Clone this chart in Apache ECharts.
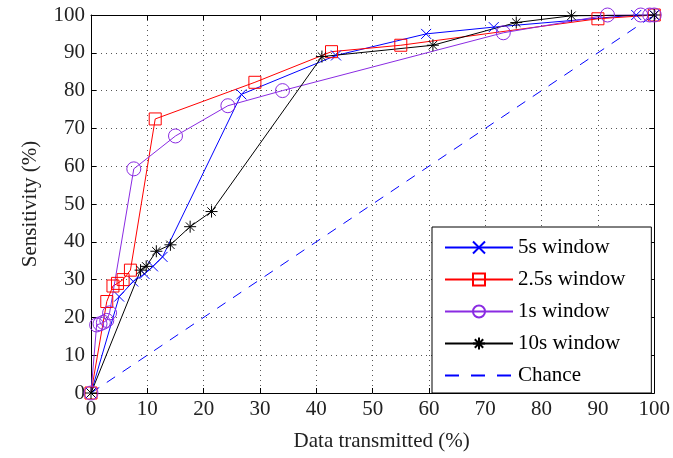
<!DOCTYPE html>
<html>
<head>
<meta charset="utf-8">
<script src="https://cdn.jsdelivr.net/npm/echarts@6/dist/echarts.min.js"></script>
<style>
  html, body { margin: 0; padding: 0; background: #fff; }
  #main { width: 673px; height: 458px; }
</style>
</head>
<body>
<div id="main"></div>
<script>
// ROC-like curves, values: [data transmitted %, sensitivity %]
const win5s = [[0, 0], [5, 25.5], [7.5, 29.5], [9.5, 31.5], [11, 33.5], [12.7, 36], [26.7, 79], [43.5, 89.3], [59.5, 95], [71.5, 96.8], [96.8, 100], [100, 100]];
const win2_5s = [[0, 0], [2.8, 24.2], [3.9, 28.3], [4.7, 29], [5.7, 30], [7, 32.5], [11.4, 72.5], [29.1, 82.2], [42.7, 90.3], [55, 92], [90, 99], [100, 100]];
const win1s = [[0, 0], [1, 18], [1.6, 18.3], [2.2, 18.7], [2.8, 19.2], [3.3, 21.2], [7.6, 59.3], [15, 68], [24.3, 76], [34, 80], [73.2, 95.3], [91.7, 100], [97.6, 100], [99.2, 100], [100, 100]];
const win10s = [[0, 0], [8.8, 32.5], [9.8, 33.5], [11.6, 37.5], [14.1, 39.2], [17.6, 44], [21.4, 48], [41, 89], [60.7, 92], [75.5, 98], [85.3, 99.8], [100, 100]];
const chance = [[0, 0], [100, 100]];

const seriesNames = ['5s window', '2.5s window', '1s window', '10s window', 'Chance'];

const FONT = '"Liberation Serif", "DejaVu Serif", serif';
const crossPath = 'path://M0 0L10 10M10 0L0 10';
const starPath = 'path://M5 0L5 10M0 5L10 5M1.5 1.5L8.5 8.5M8.5 1.5L1.5 8.5';

function valueAxis(pos, show) {
  return {
    type: 'value',
    position: pos,
    min: 0,
    max: 100,
    interval: 10,
    axisLine: { show: true, onZero: false, lineStyle: { color: '#000', width: 1 } },
    axisTick: { show: true, inside: true, length: 5, lineStyle: { color: '#000' } },
    axisLabel: {
      show: show,
      color: '#222',
      fontFamily: FONT,
      fontSize: 21,
      margin: 6
    },
    splitLine: {
      show: show,
      lineStyle: { color: '#555', type: [1, 4], width: 1 }
    }
  };
}

function lineSeries(name, data, color, symbol, size) {
  return {
    name: name,
    type: 'line',
    data: data,
    symbol: symbol,
    symbolSize: size,
    showAllSymbol: true,
    lineStyle: { color: color, width: 1 },
    itemStyle: { color: 'none', borderColor: color, borderWidth: 1 },
    emphasis: { disabled: true }
  };
}

const chart = echarts.init(document.getElementById('main'));

const xBottom = valueAxis('bottom', true);
xBottom.name = 'Data transmitted (%)';
xBottom.nameLocation = 'middle';
xBottom.nameGap = 38;
xBottom.nameTextStyle = { fontFamily: FONT, fontSize: 21, color: '#222', padding: [0, 0, 0, 18] };

const yLeft = valueAxis('left', true);
yLeft.name = 'Sensitivity (%)';
yLeft.nameLocation = 'middle';
yLeft.nameGap = 50;
yLeft.nameTextStyle = { fontFamily: FONT, fontSize: 21, color: '#222' };

const option = {
  animation: false,
  backgroundColor: '#fff',
  grid: { left: 91, right: 18, top: 15, bottom: 65, containLabel: false },
  xAxis: [xBottom, valueAxis('top', false)],
  yAxis: [yLeft, valueAxis('right', false)],
  legend: {
    orient: 'vertical',
    left: 432,
    top: 227,
    data: seriesNames.slice(0, 4).concat([{ name: 'Chance', lineStyle: { type: [14, 12] } }]),
    backgroundColor: '#fff',
    borderColor: '#000',
    borderWidth: 1,
    borderRadius: 0,
    padding: [10, 26, 7, 12],
    itemWidth: 68,
    itemHeight: 15,
    itemGap: 11,
    textStyle: { fontFamily: FONT, fontSize: 21, color: '#000' },
    selectedMode: false
  },
  series: [
    lineSeries(seriesNames[0], win5s, '#0000ff', crossPath, 10),
    lineSeries(seriesNames[1], win2_5s, '#ff0000', 'rect', 12),
    lineSeries(seriesNames[2], win1s, '#8a2be2', 'circle', 14),
    lineSeries(seriesNames[3], win10s, '#000000', starPath, 12),
    {
      name: seriesNames[4],
      type: 'line',
      data: chance,
      symbol: 'circle',
      symbolSize: 0,
      showSymbol: false,
      lineStyle: { color: '#0000ff', width: 1, type: [10, 9] },
      itemStyle: { color: 'none', borderColor: 'none', borderWidth: 0 },
      emphasis: { disabled: true }
    }
  ]
};

chart.setOption(option);
</script>
</body>
</html>
